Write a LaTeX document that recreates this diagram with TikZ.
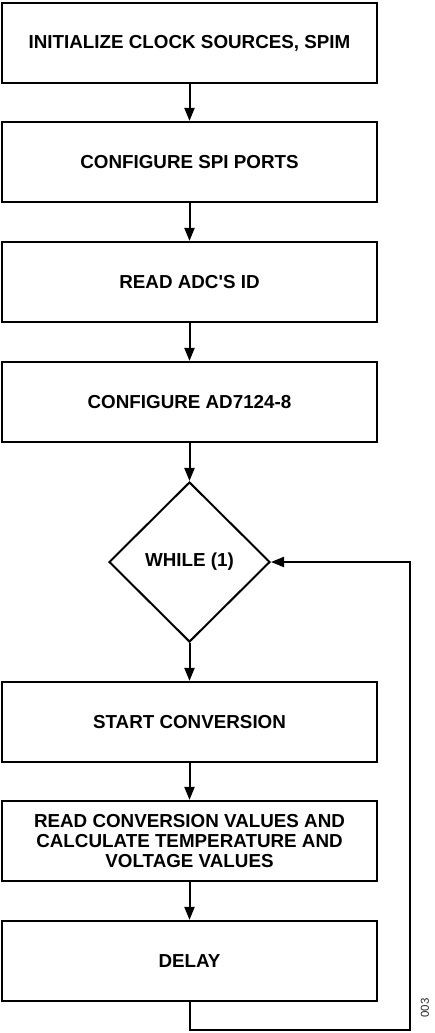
\documentclass[tikz,border=0pt]{standalone}
\usepackage{fontspec}
\setmainfont{Liberation Sans}
\usetikzlibrary{arrows.meta,shapes.geometric}
\tikzset{
  stepbox/.style={draw, line width=2.2pt, minimum width=375pt, minimum height=80pt, inner sep=0pt, align=center, font=\bfseries\fontsize{18.8}{20}\selectfont},
  decbox/.style={draw, diamond, line width=2pt, minimum width=161pt, minimum height=160pt, inner sep=0pt, align=center, font=\bfseries\fontsize{18.8}{20}\selectfont},
  flow/.style={line width=2pt, -{Triangle[length=13pt,width=10pt]}},
}
\begin{document}
\begin{tikzpicture}[x=1pt,y=-1pt]
\useasboundingbox (0,0) rectangle (435,1033);
\node[stepbox] (b1) at (189.5,43) {INITIALIZE CLOCK SOURCES, SPIM};
\node[stepbox] (b2) at (189.5,162) {CONFIGURE SPI PORTS};
\node[stepbox] (b3) at (189.5,282) {READ ADC\textquotesingle S ID};
\node[stepbox] (b4) at (189.5,402) {CONFIGURE AD7124-8};
\node[decbox] (w) at (189.5,562) {WHILE (1)};
\node[stepbox] (b5) at (189.5,722) {START CONVERSION};
\node[stepbox] (b6) at (189.5,841) {READ CONVERSION VALUES AND\\CALCULATE TEMPERATURE AND\\VOLTAGE VALUES};
\node[stepbox] (b7) at (189.5,961) {DELAY};
\coordinate (lc) at (410,1030);
\draw[flow] (b1) -- (b2);
\draw[flow] (b2) -- (b3);
\draw[flow] (b3) -- (b4);
\draw[flow] (b4) -- (w);
\draw[flow] (w) -- (b5);
\draw[flow] (b5) -- (b6);
\draw[flow] (b6) -- (b7);
\draw[flow] (b7.south) |- (lc) |- (w.east);
\node[rotate=90, font=\fontsize{11.5}{12}\selectfont, text=black!85] (id) at (425,1008) {003};
\end{tikzpicture}
\end{document}
